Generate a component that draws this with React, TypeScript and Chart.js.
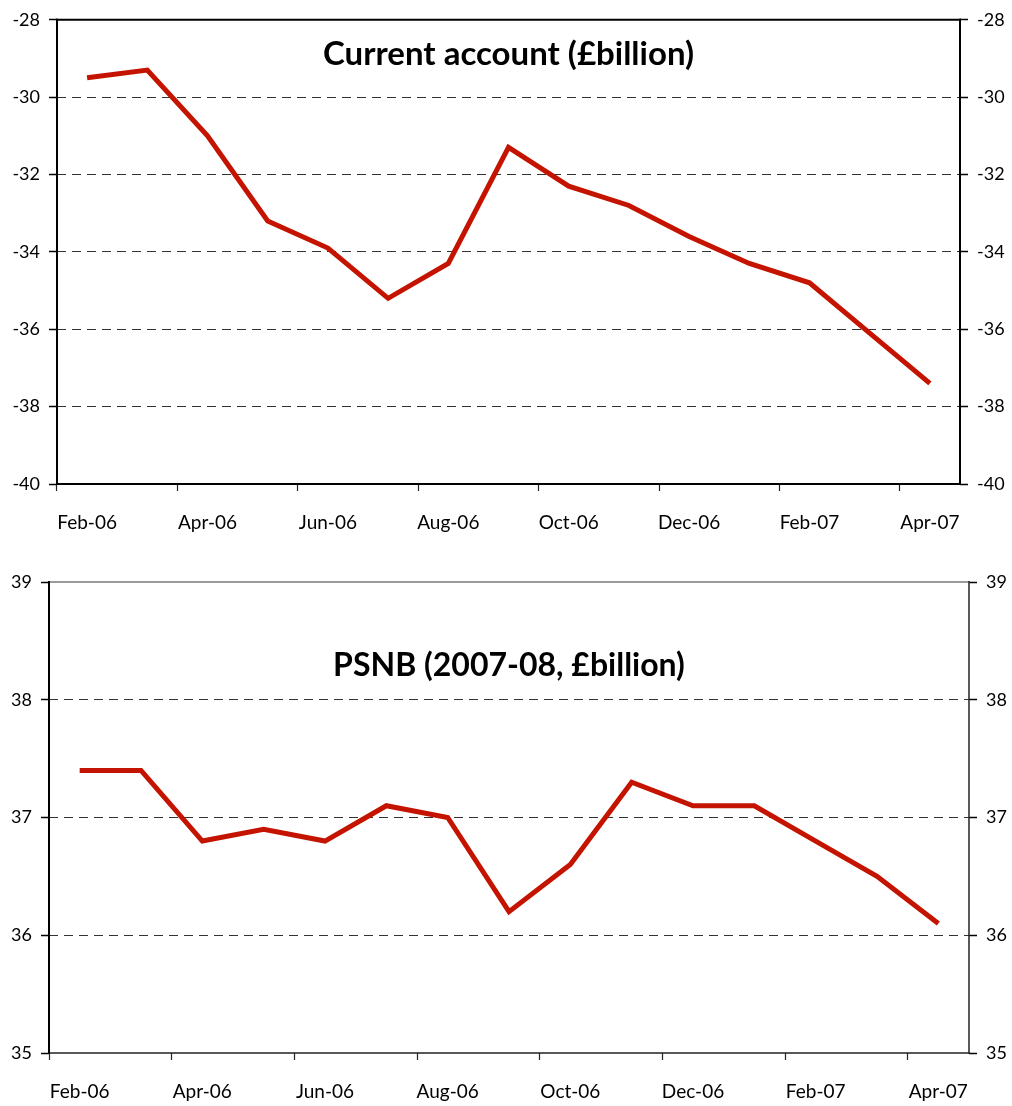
import React, { useEffect, useRef } from "react";
import { Chart, registerables } from "chart.js";

Chart.register(...registerables);

const months = ["Feb-06", "Mar-06", "Apr-06", "May-06", "Jun-06", "Jul-06", "Aug-06", "Sep-06", "Oct-06", "Nov-06", "Dec-06", "Jan-07", "Feb-07", "Mar-07", "Apr-07"];
const currentAccount = [-29.5, -29.3, -31.0, -33.2, -33.9, -35.2, -34.3, -31.3, -32.3, -32.8, -33.6, -34.3, -34.8, -36.1, -37.4];
const psnb = [37.4, 37.4, 36.8, 36.9, 36.8, 37.1, 37.0, 36.2, 36.6, 37.3, 37.1, 37.1, 36.8, 36.5, 36.1];
const caAxis = { min: -40, max: -28, step: 2 };
const psnbAxis = { min: 35, max: 39, step: 1 };
const caTitle = "Current account (£billion)";
const psnbTitle = "PSNB (2007-08, £billion)";

const W = 1012;
const FONT = "Lato, 'Noto Sans', sans-serif";

type Panel = {
  labels: string[];
  values: number[];
  axis: { min: number; max: number; step: number };
  title: string;
  titleBaseline: number;
  titleSize: number;
  height: number;
  area: { left: number; right: number; top: number; bottom: number };
  frame: { top: [string, number]; left: [string, number]; right: [string, number]; bottom: [string, number] };
  xPad: number;
};

function makeConfig(p: Panel): any {
  const framePlugin = {
    id: "frame",
    afterDraw(chart: any) {
      const { ctx, chartArea: a } = chart;
      ctx.save();
      const seg = (c: [string, number], x1: number, y1: number, x2: number, y2: number) => {
        ctx.strokeStyle = c[0];
        ctx.lineWidth = c[1];
        ctx.setLineDash([]);
        ctx.beginPath();
        ctx.moveTo(x1, y1);
        ctx.lineTo(x2, y2);
        ctx.stroke();
      };
      seg(p.frame.top, a.left - 1, a.top, a.right + 1, a.top);
      seg(p.frame.bottom, a.left - 1, a.bottom, a.right + 1, a.bottom);
      seg(p.frame.left, a.left, a.top - 1, a.left, a.bottom + 1);
      seg(p.frame.right, a.right, a.top - 1, a.right, a.bottom + 1);
      ctx.restore();
    },
  };
  const titlePlugin = {
    id: "innerTitle",
    afterDatasetsDraw(chart: any) {
      const { ctx, chartArea: a } = chart;
      ctx.save();
      ctx.font = `bold ${p.titleSize}px ${FONT}`;
      ctx.fillStyle = "#000";
      ctx.textAlign = "center";
      ctx.textBaseline = "alphabetic";
      ctx.fillText(p.title, (a.left + a.right) / 2, p.titleBaseline);
      ctx.restore();
    },
  };
  const yTicks = {
    stepSize: p.axis.step,
    padding: 9,
    color: "#000",
    font: { family: FONT, size: 18 },
  };
  return {
    type: "line",
    data: {
      labels: p.labels,
      datasets: [
        {
          data: p.values,
          borderColor: "#C41400",
          borderWidth: 5,
          pointRadius: 0,
          tension: 0,
          borderJoinStyle: "miter",
          yAxisID: "y",
        },
      ],
    },
    options: {
      animation: false,
      responsive: false,
      devicePixelRatio: 1,
      layout: { padding: { top: p.area.top, left: 0, right: 0, bottom: 0 } },
      plugins: { legend: { display: false }, tooltip: { enabled: false }, title: { display: false } },
      scales: {
        x: {
          type: "category",
          offset: true,
          grid: {
            offset: true,
            drawOnChartArea: false,
            drawTicks: true,
            tickLength: 7,
            tickWidth: 1.2,
            tickColor: (c: any) => (c.index !== undefined && c.index % 2 === 0 ? "#222" : "rgba(0,0,0,0)"),
          },
          border: { display: false },
          ticks: {
            autoSkip: false,
            maxRotation: 0,
            minRotation: 0,
            padding: p.xPad,
            color: "#000",
            font: { family: FONT, size: 19 },
            callback: function (this: any, v: any, i: number) {
              return i % 2 === 0 ? this.getLabelForValue(v) : "";
            },
          },
          afterFit: (s: any) => {
            s.height = p.height - p.area.bottom;
          },
        },
        y: {
          position: "left",
          min: p.axis.min,
          max: p.axis.max,
          ticks: yTicks,
          grid: {
            color: (c: any) =>
              c.tick && (c.tick.value === p.axis.min || c.tick.value === p.axis.max) ? "rgba(0,0,0,0)" : "#333",
            lineWidth: 1,
            tickColor: "#000",
            tickLength: 8,
            tickWidth: 1.5,
            tickBorderDash: [],
          },
          border: { display: false, dash: [9, 6] },
          afterFit: (s: any) => {
            s.width = p.area.left;
          },
        },
        y2: {
          position: "right",
          min: p.axis.min,
          max: p.axis.max,
          ticks: { ...yTicks, padding: 9 },
          grid: {
            drawOnChartArea: false,
            tickColor: "#000",
            tickLength: 8,
            tickWidth: 1.5,
          },
          border: { display: false },
          afterFit: (s: any) => {
            s.width = W - p.area.right;
          },
        },
      },
    },
    plugins: [framePlugin, titlePlugin],
  };
}

function ChartPanel({ panel }: { panel: Panel }) {
  const ref = useRef<HTMLCanvasElement | null>(null);
  useEffect(() => {
    if (!ref.current) return;
    const chart = new Chart(ref.current, makeConfig(panel));
    return () => chart.destroy();
  }, [panel]);
  return (
    <canvas
      ref={ref}
      width={W}
      height={panel.height}
      style={{ display: "block", width: W, height: panel.height }}
    />
  );
}

const topPanel: Panel = {
  labels: months,
  values: currentAccount,
  axis: caAxis,
  title: caTitle,
  titleBaseline: 65,
  titleSize: 33,
  height: 550,
  area: { left: 57, right: 960, top: 17, bottom: 484 },
  frame: { top: ["#000", 2], left: ["#000", 2], right: ["#000", 2], bottom: ["#000", 2] },
  xPad: 20,
};

const bottomPanel: Panel = {
  labels: months,
  values: psnb,
  axis: psnbAxis,
  title: psnbTitle,
  titleBaseline: 126,
  titleSize: 32,
  height: 556,
  area: { left: 49, right: 969, top: 32, bottom: 503 },
  frame: { top: ["#9a9a9a", 2], left: ["#000", 2], right: ["#222", 1.5], bottom: ["#222", 1.5] },
  xPad: 20,
};

export default function App() {
  return (
    <div style={{ position: "absolute", left: 0, top: 0, width: W, height: 1106, background: "#fff" }}>
      <ChartPanel panel={topPanel} />
      <ChartPanel panel={bottomPanel} />
    </div>
  );
}
